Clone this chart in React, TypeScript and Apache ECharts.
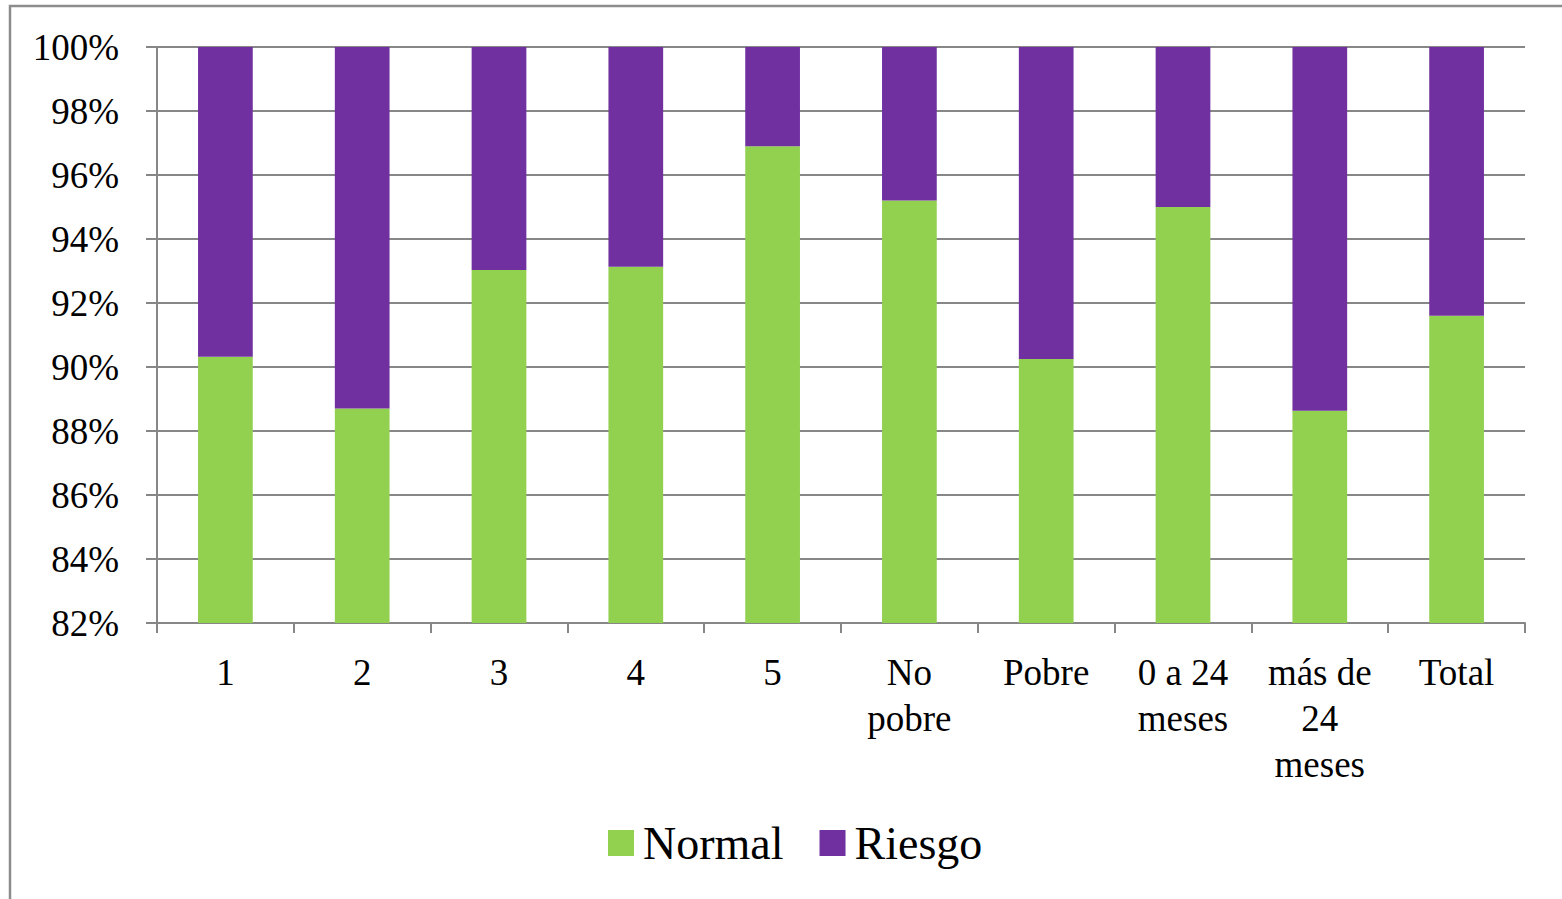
import React, { useEffect, useRef } from "react";
import * as echarts from "echarts";

const categories = ["1", "2", "3", "4", "5", "No\npobre", "Pobre", "0 a 24\nmeses", "más de\n24\nmeses", "Total"];
const normalValues = [90.32, 88.7, 93.03, 93.13, 96.9, 95.2, 90.25, 95.0, 88.63, 91.6];
const riesgoValues = [9.68, 11.3, 6.97, 6.87, 3.1, 4.8, 9.75, 5.0, 11.37, 8.4];
const seriesNames = ["Normal", "Riesgo"];
const yTicks = { min: 82, max: 100, interval: 2 };

const FONT = "'Liberation Serif', 'Times New Roman', serif";
const GRID_COLOR = "#878787";

export default function App() {
  const ref = useRef<HTMLDivElement>(null);
  useEffect(() => {
    if (!ref.current) return;
    const chart = echarts.init(ref.current, null, { renderer: "svg" });
    chart.setOption({
      animation: false,
      backgroundColor: "#ffffff",
      textStyle: { fontFamily: FONT, color: "#000" },
      graphic: [
        {
          type: "rect",
          shape: { x: 10, y: 6, width: 1600, height: 1000 },
          style: { fill: "none", stroke: "#8c8c8c", lineWidth: 2.5 },
          silent: true,
        },
      ],
      grid: { left: 157, right: 37, top: 47, bottom: 276, containLabel: false },
      legend: {
        data: seriesNames,
        left: 608,
        top: 820,
        itemWidth: 26,
        itemHeight: 26,
        itemGap: 36,
        icon: "rect",
        padding: 0,
        textStyle: { fontFamily: FONT, fontSize: 46, color: "#000", padding: [0, 0, 0, 4] },
      },
      xAxis: {
        type: "category",
        data: categories,
        boundaryGap: true,
        axisLine: { show: true, lineStyle: { color: GRID_COLOR, width: 2 } },
        axisTick: { show: true, length: 10, alignWithLabel: false, lineStyle: { color: GRID_COLOR, width: 2 } },
        axisLabel: {
          interval: 0,
          margin: 26,
          fontFamily: FONT,
          fontSize: 37,
          lineHeight: 46,
          color: "#000",
        },
      },
      yAxis: {
        type: "value",
        min: yTicks.min,
        max: yTicks.max,
        interval: yTicks.interval,
        axisLine: { show: true, lineStyle: { color: GRID_COLOR, width: 2 } },
        axisTick: { show: true, length: 11, lineStyle: { color: GRID_COLOR, width: 2 } },
        splitLine: { show: true, lineStyle: { color: GRID_COLOR, width: 2 } },
        axisLabel: {
          margin: 38,
          fontFamily: FONT,
          fontSize: 37,
          color: "#000",
          formatter: "{value}%",
        },
      },
      series: [
        {
          name: seriesNames[0],
          type: "bar",
          stack: "total",
          barWidth: "40%",
          data: normalValues,
          itemStyle: { color: "#92D050" },
        },
        {
          name: seriesNames[1],
          type: "bar",
          stack: "total",
          barWidth: "40%",
          data: riesgoValues,
          itemStyle: { color: "#7030A0" },
        },
      ],
    });
    return () => chart.dispose();
  }, []);
  return (
    <div
      ref={ref}
      style={{ position: "fixed", left: 0, top: 0, width: 1562, height: 899 }}
    />
  );
}
